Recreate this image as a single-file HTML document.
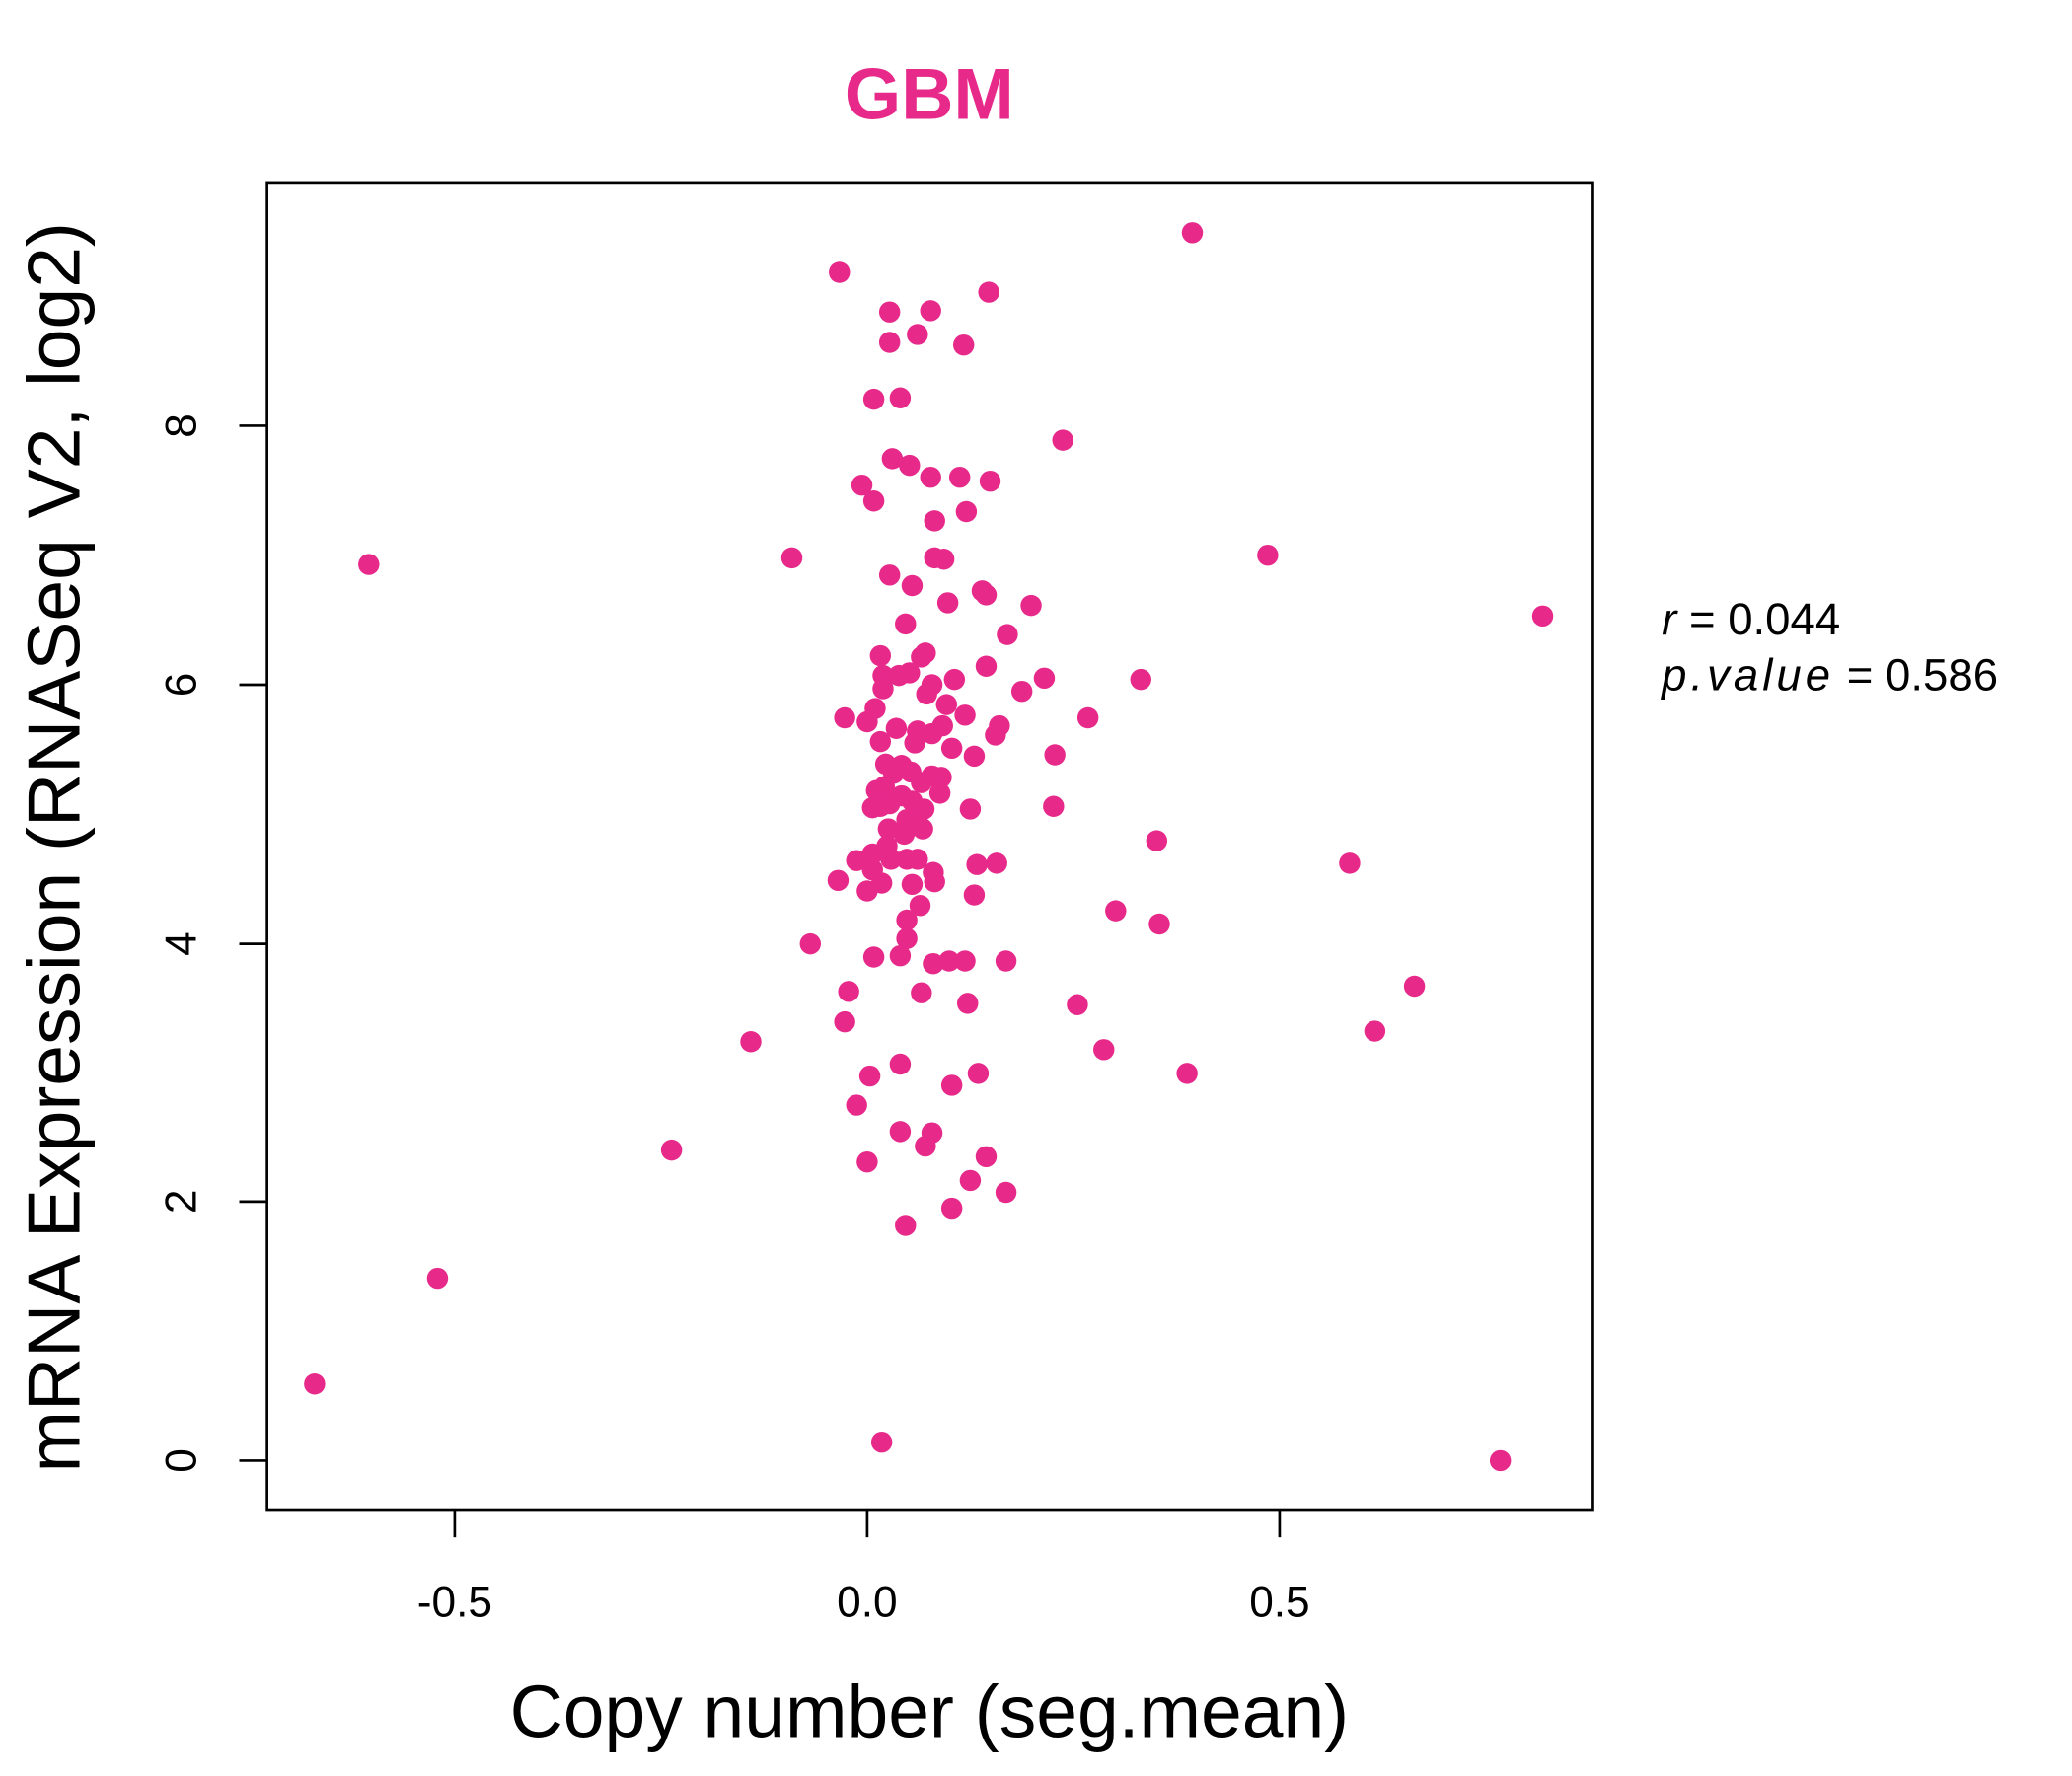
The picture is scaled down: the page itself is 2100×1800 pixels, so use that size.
<!DOCTYPE html>
<html><head><meta charset="utf-8"><style>html,body{margin:0;padding:0;background:#fff}svg{display:block}</style></head>
<body>
<svg xmlns="http://www.w3.org/2000/svg" width="2100" height="1800" viewBox="0 0 1567.4 1343.5" preserveAspectRatio="none" font-family="Liberation Sans, sans-serif">
<rect width="1570" height="1345" fill="#fff"/>
<text x="703" y="90" text-anchor="middle" font-size="55" font-weight="bold" fill="#E7298A">GBM</text>
<rect x="202" y="138" width="1003" height="1004" fill="none" stroke="#000" stroke-width="2"/>
<g stroke="#000" stroke-width="2">
<line x1="344" y1="1142" x2="344" y2="1163"/><line x1="656" y1="1142" x2="656" y2="1163"/><line x1="968" y1="1142" x2="968" y2="1163"/>
<line x1="202" y1="1105" x2="181" y2="1105"/><line x1="202" y1="909" x2="181" y2="909"/><line x1="202" y1="714" x2="181" y2="714"/><line x1="202" y1="518" x2="181" y2="518"/><line x1="202" y1="322" x2="181" y2="322"/>
</g>
<g font-size="33" text-anchor="middle" fill="#000">
<text x="344" y="1223">-0.5</text><text x="656" y="1223">0.0</text><text x="968" y="1223">0.5</text>
<text transform="translate(148,1105) rotate(-90)">0</text>
<text transform="translate(148,909) rotate(-90)">2</text>
<text transform="translate(148,714) rotate(-90)">4</text>
<text transform="translate(148,518) rotate(-90)">6</text>
<text transform="translate(148,322) rotate(-90)">8</text>
</g>
<text x="703" y="1314" text-anchor="middle" font-size="56">Copy number (seg.mean)</text>
<text transform="translate(60,641) rotate(-90)" text-anchor="middle" font-size="56">mRNA Expression (RNASeq V2, log2)</text>
<g font-size="34" fill="#000">
<text x="1257" y="480"><tspan font-style="italic">r</tspan> = 0.044</text>
<text x="1257" y="522"><tspan font-style="italic" letter-spacing="3">p.value</tspan> = 0.586</text>
</g>
<g fill="#E7298A">
<circle cx="902" cy="176" r="8"/><circle cx="635" cy="206" r="8"/><circle cx="748" cy="221" r="8"/><circle cx="673" cy="236" r="8"/><circle cx="704" cy="235" r="8"/><circle cx="694" cy="253" r="8"/><circle cx="673" cy="259" r="8"/><circle cx="729" cy="261" r="8"/><circle cx="661" cy="302" r="8"/><circle cx="681" cy="301" r="8"/><circle cx="804" cy="333" r="8"/><circle cx="675" cy="347" r="8"/><circle cx="688" cy="352" r="8"/><circle cx="704" cy="361" r="8"/><circle cx="726" cy="361" r="8"/><circle cx="749" cy="364" r="8"/><circle cx="652" cy="367" r="8"/><circle cx="661" cy="379" r="8"/><circle cx="731" cy="387" r="8"/><circle cx="707" cy="394" r="8"/><circle cx="959" cy="420" r="8"/><circle cx="599" cy="422" r="8"/><circle cx="279" cy="427" r="8"/><circle cx="707" cy="422" r="8"/><circle cx="714" cy="423" r="8"/><circle cx="673" cy="435" r="8"/><circle cx="690" cy="443" r="8"/><circle cx="743" cy="447" r="8"/><circle cx="746" cy="450" r="8"/><circle cx="717" cy="456" r="8"/><circle cx="780" cy="458" r="8"/><circle cx="685" cy="472" r="8"/><circle cx="762" cy="480" r="8"/><circle cx="1167" cy="466" r="8"/><circle cx="666" cy="496" r="8"/><circle cx="700" cy="494" r="8"/><circle cx="697" cy="497" r="8"/><circle cx="746" cy="504" r="8"/><circle cx="688" cy="509" r="8"/><circle cx="668" cy="511" r="8"/><circle cx="680" cy="511" r="8"/><circle cx="705" cy="518" r="8"/><circle cx="722" cy="514" r="8"/><circle cx="668" cy="521" r="8"/><circle cx="790" cy="513" r="8"/><circle cx="863" cy="514" r="8"/><circle cx="701" cy="525" r="8"/><circle cx="773" cy="523" r="8"/><circle cx="716" cy="533" r="8"/><circle cx="662" cy="536" r="8"/><circle cx="639" cy="543" r="8"/><circle cx="656" cy="546" r="8"/><circle cx="730" cy="541" r="8"/><circle cx="823" cy="543" r="8"/><circle cx="678" cy="551" r="8"/><circle cx="756" cy="549" r="8"/><circle cx="694" cy="553" r="8"/><circle cx="705" cy="555" r="8"/><circle cx="666" cy="561" r="8"/><circle cx="713" cy="549" r="8"/><circle cx="753" cy="556" r="8"/><circle cx="692" cy="562" r="8"/><circle cx="720" cy="566" r="8"/><circle cx="798" cy="571" r="8"/><circle cx="737" cy="572" r="8"/><circle cx="670" cy="578" r="8"/><circle cx="682" cy="579" r="8"/><circle cx="676" cy="585" r="8"/><circle cx="689" cy="584" r="8"/><circle cx="705" cy="587" r="8"/><circle cx="712" cy="588" r="8"/><circle cx="697" cy="592" r="8"/><circle cx="669" cy="595" r="8"/><circle cx="663" cy="598" r="8"/><circle cx="711" cy="600" r="8"/><circle cx="682" cy="602" r="8"/><circle cx="690" cy="606" r="8"/><circle cx="673" cy="608" r="8"/><circle cx="660" cy="611" r="8"/><circle cx="699" cy="612" r="8"/><circle cx="734" cy="612" r="8"/><circle cx="666" cy="610" r="8"/><circle cx="797" cy="610" r="8"/><circle cx="686" cy="620" r="8"/><circle cx="672" cy="627" r="8"/><circle cx="694" cy="622" r="8"/><circle cx="698" cy="627" r="8"/><circle cx="684" cy="631" r="8"/><circle cx="875" cy="636" r="8"/><circle cx="671" cy="640" r="8"/><circle cx="648" cy="651" r="8"/><circle cx="660" cy="646" r="8"/><circle cx="674" cy="650" r="8"/><circle cx="660" cy="658" r="8"/><circle cx="686" cy="650" r="8"/><circle cx="694" cy="650" r="8"/><circle cx="706" cy="660" r="8"/><circle cx="739" cy="654" r="8"/><circle cx="754" cy="653" r="8"/><circle cx="1021" cy="653" r="8"/><circle cx="634" cy="666" r="8"/><circle cx="667" cy="668" r="8"/><circle cx="690" cy="669" r="8"/><circle cx="707" cy="667" r="8"/><circle cx="656" cy="674" r="8"/><circle cx="737" cy="677" r="8"/><circle cx="696" cy="685" r="8"/><circle cx="844" cy="689" r="8"/><circle cx="686" cy="696" r="8"/><circle cx="877" cy="699" r="8"/><circle cx="686" cy="710" r="8"/><circle cx="613" cy="714" r="8"/><circle cx="661" cy="724" r="8"/><circle cx="681" cy="723" r="8"/><circle cx="718" cy="727" r="8"/><circle cx="730" cy="727" r="8"/><circle cx="706" cy="729" r="8"/><circle cx="761" cy="727" r="8"/><circle cx="642" cy="750" r="8"/><circle cx="697" cy="751" r="8"/><circle cx="1070" cy="746" r="8"/><circle cx="732" cy="759" r="8"/><circle cx="815" cy="760" r="8"/><circle cx="639" cy="773" r="8"/><circle cx="1040" cy="780" r="8"/><circle cx="568" cy="788" r="8"/><circle cx="835" cy="794" r="8"/><circle cx="681" cy="805" r="8"/><circle cx="658" cy="814" r="8"/><circle cx="740" cy="812" r="8"/><circle cx="898" cy="812" r="8"/><circle cx="720" cy="821" r="8"/><circle cx="648" cy="836" r="8"/><circle cx="681" cy="856" r="8"/><circle cx="705" cy="857" r="8"/><circle cx="700" cy="867" r="8"/><circle cx="508" cy="870" r="8"/><circle cx="656" cy="879" r="8"/><circle cx="746" cy="875" r="8"/><circle cx="734" cy="893" r="8"/><circle cx="761" cy="902" r="8"/><circle cx="720" cy="914" r="8"/><circle cx="685" cy="927" r="8"/><circle cx="331" cy="967" r="8"/><circle cx="238" cy="1047" r="8"/><circle cx="667" cy="1091" r="8"/><circle cx="1135" cy="1105" r="8"/>
</g>
</svg>
</body></html>
